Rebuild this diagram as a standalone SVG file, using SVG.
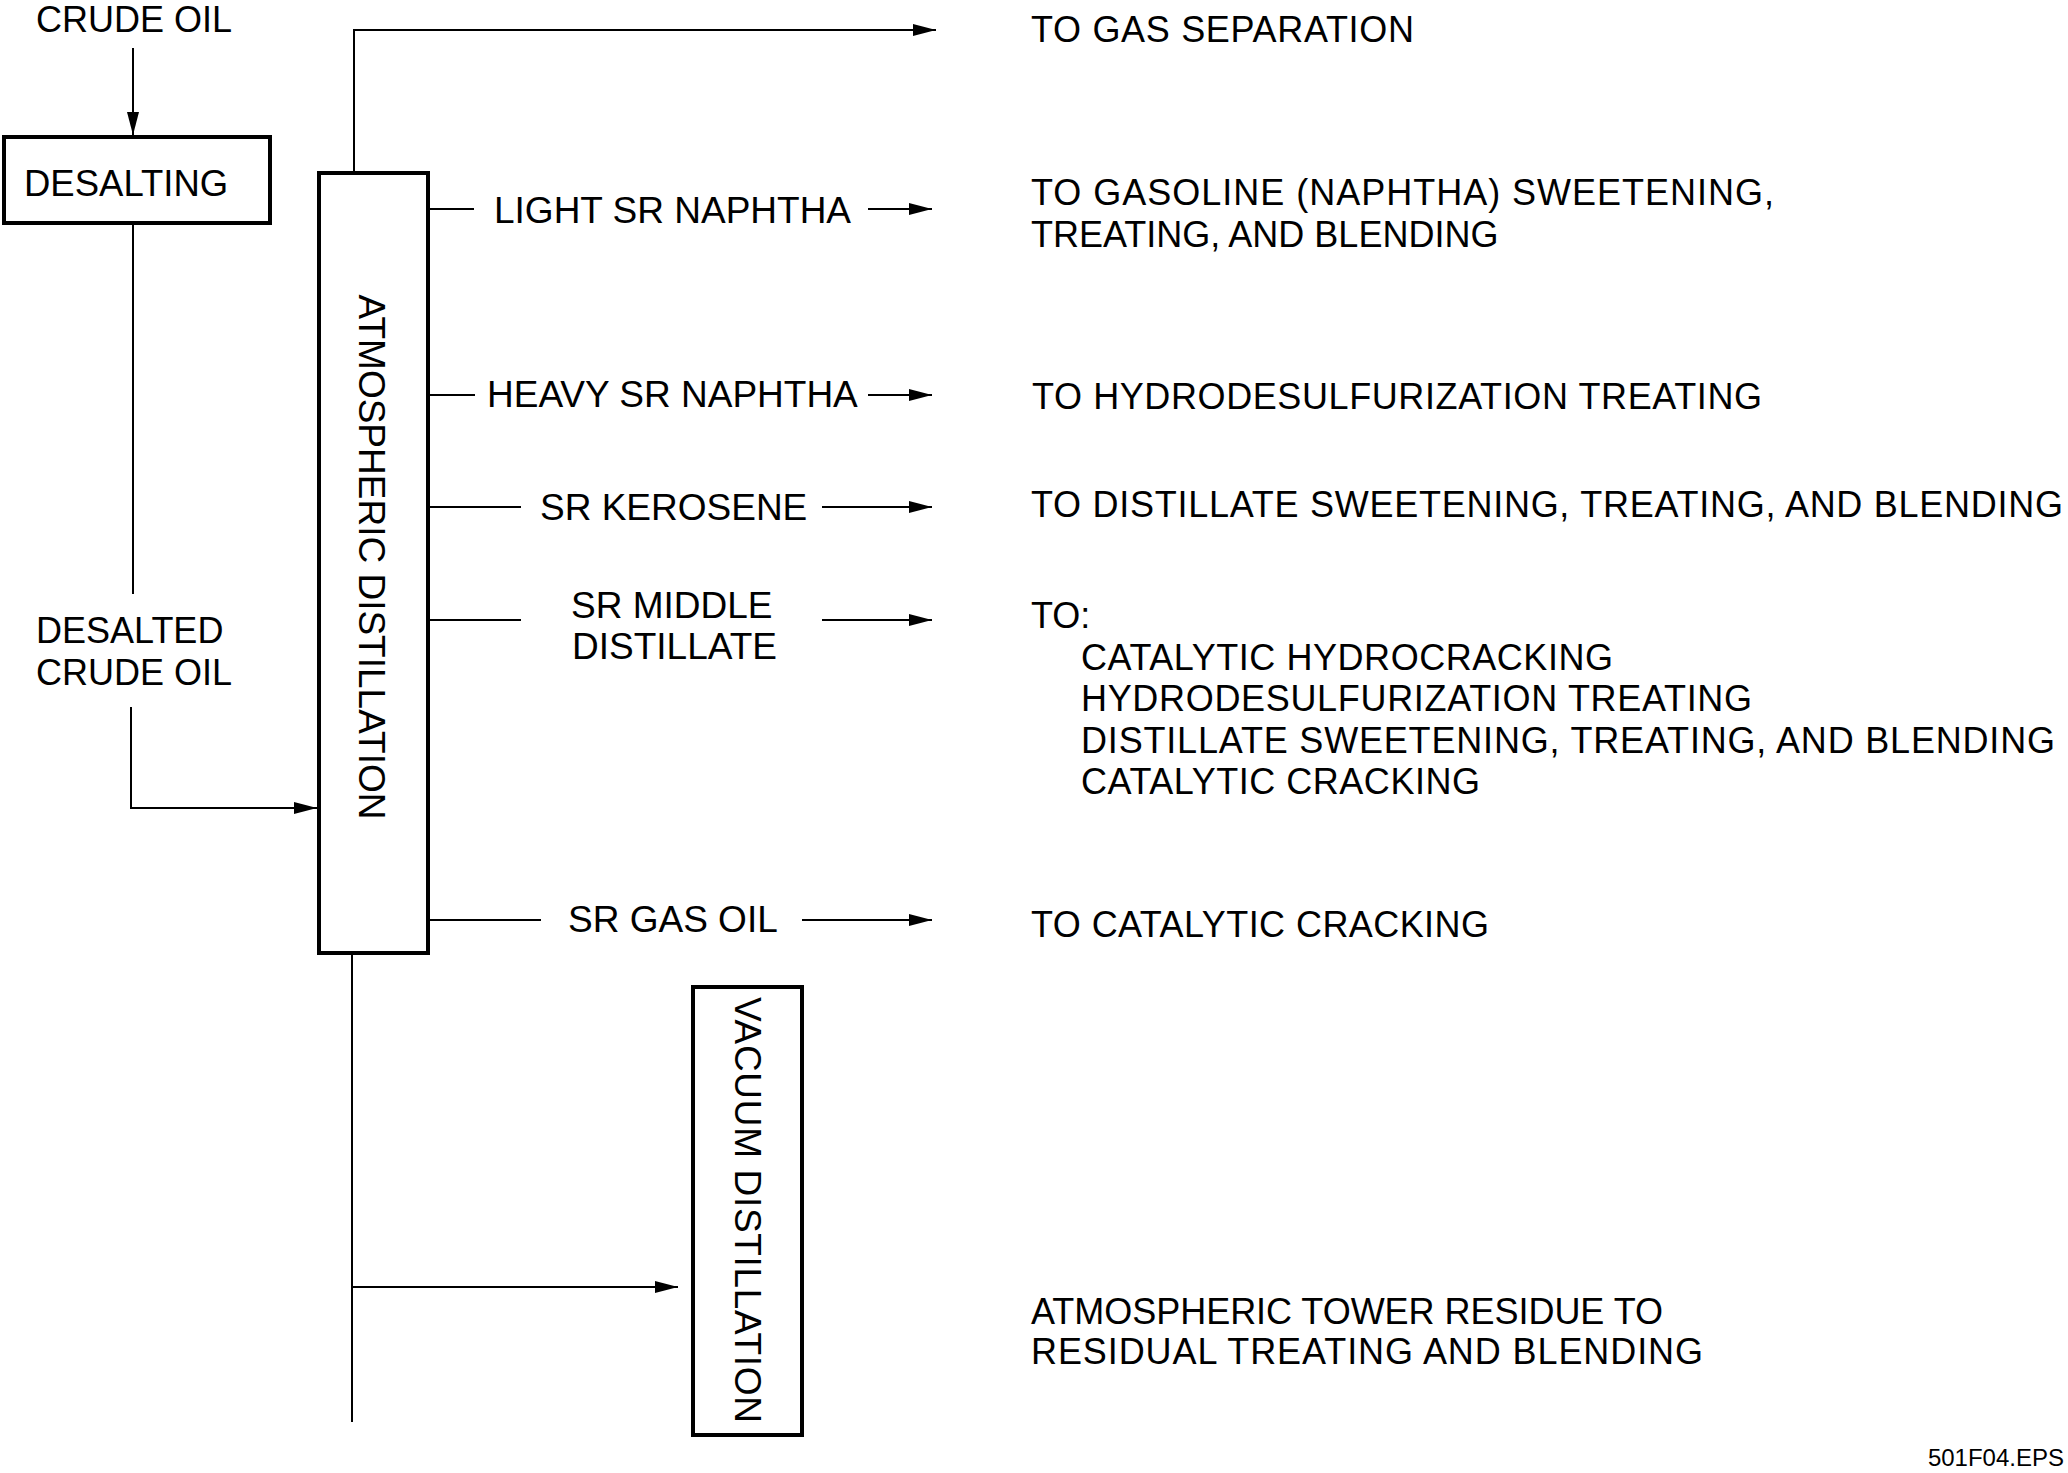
<svg xmlns="http://www.w3.org/2000/svg" width="2068" height="1473" viewBox="0 0 2068 1473">
  <defs>
    <marker id="arr" markerUnits="userSpaceOnUse" markerWidth="24" markerHeight="12" refX="23" refY="6" orient="auto">
      <path d="M0,0 L23,6 L0,12 z" fill="#000"/>
    </marker>
    <style>
      text { font-family: "Liberation Sans", Arial, Helvetica, sans-serif; fill: #000; }
      .t36 { font-size: 36px; }
      .t37 { font-size: 37px; }
      .box { fill: #fff; stroke: #000; stroke-width: 4; }
      .ln { fill: none; stroke: #000; stroke-width: 2; }
      .ar { fill: none; stroke: #000; stroke-width: 2; marker-end: url(#arr); }
    </style>
  </defs>
  <rect width="2068" height="1473" fill="#fff"/>

  <g id="connectors">
    <path class="ar" d="M133,48 V135"/>
    <path class="ln" d="M133,225 V594"/>
    <path class="ar" d="M131,707 V808 H317"/>
    <path class="ar" d="M354,171 V30 H936"/>
    <path class="ln" d="M430,209 H474"/>
    <path class="ar" d="M868,209 H932"/>
    <path class="ln" d="M430,395 H475"/>
    <path class="ar" d="M868,395 H932"/>
    <path class="ln" d="M430,507 H521"/>
    <path class="ar" d="M822,507 H932"/>
    <path class="ln" d="M430,620 H521"/>
    <path class="ar" d="M822,620 H932"/>
    <path class="ln" d="M430,920 H541"/>
    <path class="ar" d="M802,920 H932"/>
    <path class="ln" d="M352,955 V1422"/>
    <path class="ar" d="M352,1287 H678"/>
  </g>

  <g id="crude-oil">
    <text class="t36" x="36" y="32">CRUDE OIL</text>
  </g>

  <g id="desalting">
    <rect class="box" x="4" y="137" width="266" height="86"/>
    <text x="24" y="196" font-size="36.5">DESALTING</text>
  </g>

  <g id="desalted-crude-oil">
    <text class="t36" x="36" y="643">DESALTED</text>
    <text class="t36" x="36" y="685">CRUDE OIL</text>
  </g>

  <g id="atmospheric-distillation">
    <rect class="box" x="319" y="173" width="109" height="780"/>
    <text class="t37" text-anchor="middle" transform="translate(358.5,557) rotate(90)">ATMOSPHERIC DISTILLATION</text>
  </g>

  <g id="vacuum-distillation">
    <rect class="box" x="693" y="987" width="109" height="448"/>
    <text class="t37" text-anchor="middle" textLength="426" transform="translate(735,1210) rotate(90)">VACUUM DISTILLATION</text>
  </g>

  <g id="stream-labels">
    <text class="t37" x="494" y="223">LIGHT SR NAPHTHA</text>
    <text class="t37" x="487" y="407">HEAVY SR NAPHTHA</text>
    <text class="t37" x="540" y="520">SR KEROSENE</text>
    <text class="t37" x="571" y="618">SR MIDDLE</text>
    <text class="t37" x="572" y="659">DISTILLATE</text>
    <text class="t37" x="568" y="932">SR GAS OIL</text>
  </g>

  <g id="destinations">
    <text class="t36" x="1031" y="42" textLength="383">TO GAS SEPARATION</text>
    <text class="t36" x="1031" y="205" textLength="743">TO GASOLINE (NAPHTHA) SWEETENING,</text>
    <text class="t36" x="1031" y="247">TREATING, AND BLENDING</text>
    <text class="t36" x="1032" y="409" textLength="730">TO HYDRODESULFURIZATION TREATING</text>
    <text class="t36" x="1031" y="517" textLength="1032">TO DISTILLATE SWEETENING, TREATING, AND BLENDING</text>
    <text class="t36" x="1031" y="628">TO:</text>
    <text class="t36" x="1081" y="670" textLength="532">CATALYTIC HYDROCRACKING</text>
    <text class="t36" x="1081" y="711" textLength="671">HYDRODESULFURIZATION TREATING</text>
    <text class="t36" x="1081" y="753" textLength="974">DISTILLATE SWEETENING, TREATING, AND BLENDING</text>
    <text class="t36" x="1081" y="794" textLength="399">CATALYTIC CRACKING</text>
    <text class="t36" x="1031" y="937" textLength="458">TO CATALYTIC CRACKING</text>
    <text class="t36" x="1031" y="1324" textLength="632">ATMOSPHERIC TOWER RESIDUE TO</text>
    <text class="t36" x="1031" y="1364" textLength="672">RESIDUAL TREATING AND BLENDING</text>
  </g>

  <g id="figure-id">
    <text x="2064" y="1466" font-size="24" text-anchor="end">501F04.EPS</text>
  </g>
</svg>
